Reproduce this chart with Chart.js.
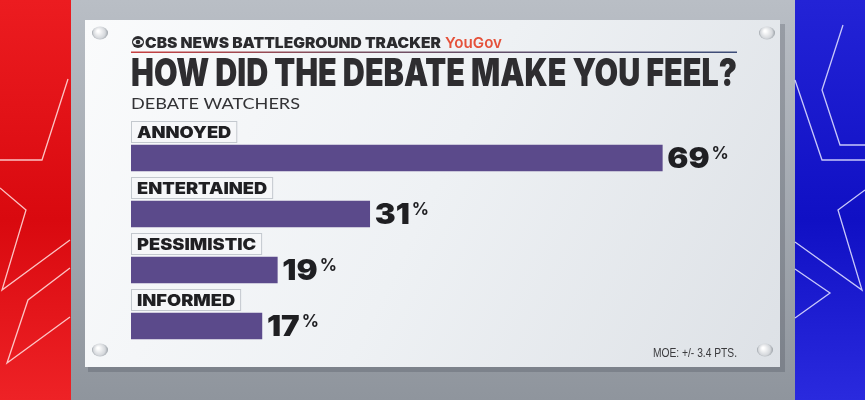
<!DOCTYPE html>
<html>
<head>
<meta charset="utf-8">
<script src="https://cdn.jsdelivr.net/npm/chart.js@4/dist/chart.umd.min.js"></script>
<style>
  html, body { margin: 0; padding: 0; background: #a7acb3; }
  #wrap { width: 865px; height: 400px; position: relative; }
</style>
</head>
<body>
<div id="wrap"><canvas id="c" width="865" height="400"></canvas></div>
<script>
// ---- data ----
const categories = ["ANNOYED", "ENTERTAINED", "PESSIMISTIC", "INFORMED"];
const values = [69, 31, 19, 17];
const headerText = "CBS NEWS BATTLEGROUND TRACKER";
const brandText = "YouGov";
const titleText = "HOW DID THE DEBATE MAKE YOU FEEL?";
const subtitleText = "DEBATE WATCHERS";
const noteText = "MOE: +/- 3.4 PTS.";

const HEAVY = "'Inter', 'Open Sans', 'DejaVu Sans', sans-serif";

function fitText(ctx, text, x, y, font, width, align) {
  ctx.save();
  ctx.font = font;
  const w = ctx.measureText(text).width;
  const s = width / w;
  ctx.translate(x, y);
  ctx.scale(s, 1);
  ctx.textAlign = align || 'left';
  ctx.fillText(text, 0, 0);
  ctx.restore();
}
function wideText(ctx, text, x, y, font, sx) {
  ctx.save();
  ctx.font = font;
  ctx.translate(x, y);
  ctx.scale(sx, 1);
  ctx.fillText(text, 0, 0);
  const w = ctx.measureText(text).width * sx;
  ctx.restore();
  return w;
}

const backdrop = {
  id: 'backdrop',
  beforeDraw(chart) {
    const ctx = chart.ctx;
    const W = chart.width, H = chart.height;
    ctx.save();
    let g = ctx.createLinearGradient(0, 0, 0, H);
    g.addColorStop(0, '#b9bec5'); g.addColorStop(1, '#8f959d');
    ctx.fillStyle = g; ctx.fillRect(0, 0, W, H);
    g = ctx.createLinearGradient(0, 0, 0, H);
    g.addColorStop(0, '#ec1c20'); g.addColorStop(0.55, '#d9090f'); g.addColorStop(1, '#ee2226');
    ctx.fillStyle = g; ctx.fillRect(0, 0, 71, H);
    g = ctx.createLinearGradient(0, 0, 0, H);
    g.addColorStop(0, '#2323d6'); g.addColorStop(0.55, '#1010c4'); g.addColorStop(1, '#2a2ade');
    ctx.fillStyle = g; ctx.fillRect(795, 0, W - 795, H);
    ctx.lineWidth = 1.3;
    const lines = [
      [[68,79],[42,160],[0,160]],
      [[0,188],[26,210],[2,290],[70,240]],
      [[70,268],[28,300],[7,363],[70,317]],
      [[843,25],[822,90],[840,145],[865,145]],
      [[795,80],[822,160],[865,160]],
      [[865,190],[838,210],[862,290],[795,242]],
      [[795,269],[830,293],[795,318]]
    ];
    lines.forEach((pts, i) => {
      ctx.strokeStyle = i < 3 ? 'rgba(255,215,215,0.9)' : 'rgba(220,220,255,0.9)';
      ctx.beginPath();
      pts.forEach((p, j) => j ? ctx.lineTo(p[0], p[1]) : ctx.moveTo(p[0], p[1]));
      ctx.stroke();
    });
    ctx.fillStyle = 'rgba(60,65,75,0.25)';
    ctx.fillRect(88, 24, 697, 348);
    g = ctx.createLinearGradient(85, 20, 780, 367);
    g.addColorStop(0, '#fafbfc'); g.addColorStop(0.5, '#eef1f4'); g.addColorStop(1, '#dde1e6');
    ctx.fillStyle = g; ctx.fillRect(85, 20, 695, 347);
    [[100,33],[100,350],[767,33],[765,350]].forEach(p => {
      const rg = ctx.createRadialGradient(p[0]-2, p[1]-2, 1, p[0], p[1], 8);
      rg.addColorStop(0, '#ffffff'); rg.addColorStop(0.7, '#d5d8dc'); rg.addColorStop(1, '#9aa0a6');
      ctx.fillStyle = rg;
      ctx.beginPath(); ctx.ellipse(p[0], p[1], 8, 6.5, 0, 0, Math.PI * 2); ctx.fill();
    });
    ctx.fillStyle = '#2b2b2e';
    ctx.beginPath(); ctx.arc(138, 42, 6, 0, Math.PI * 2); ctx.fill();
    ctx.fillStyle = '#f4f6f8';
    ctx.beginPath(); ctx.ellipse(138, 42, 5, 3, 0, 0, Math.PI * 2); ctx.fill();
    ctx.fillStyle = '#2b2b2e';
    ctx.beginPath(); ctx.arc(138, 42, 2.3, 0, Math.PI * 2); ctx.fill();
    ctx.fillStyle = '#2b2b2e';
    ctx.textBaseline = 'alphabetic';
    fitText(ctx, headerText, 145, 47.5, "900 15px " + HEAVY, 296);
    ctx.fillStyle = '#e5513a';
    fitText(ctx, brandText, 445, 47.5, "600 15px " + HEAVY, 57);
    g = ctx.createLinearGradient(131, 0, 737, 0);
    g.addColorStop(0, '#c84040'); g.addColorStop(0.35, '#7a5060'); g.addColorStop(1, '#3c4c78');
    ctx.fillStyle = g; ctx.fillRect(131, 51.5, 606, 1.5);
    ctx.fillStyle = '#2e2d30';
    fitText(ctx, titleText, 131, 86, "900 38px " + HEAVY, 606);
    ctx.fillStyle = '#333336';
    fitText(ctx, subtitleText, 131, 108.5, "400 16px 'Lato', 'Open Sans', sans-serif", 169);
    ctx.fillStyle = '#3a3a3d';
    fitText(ctx, noteText, 737, 357, "400 12px 'Liberation Sans', Arial, sans-serif", 84, 'right');
    ctx.restore();
  }
};

const labelsPlugin = {
  id: 'barLabels',
  afterDatasetsDraw(chart) {
    const ctx = chart.ctx;
    const meta = chart.getDatasetMeta(0);
    ctx.save();
    ctx.textBaseline = 'alphabetic';
    meta.data.forEach((bar, i) => {
      const top = bar.y - bar.height / 2;
      const left = bar.base;
      const lf = "900 16px " + HEAVY;
      ctx.font = lf;
      const tw = ctx.measureText(categories[i]).width * 1.14;
      const bw = tw + 12;
      ctx.fillStyle = 'rgba(246,247,249,0.95)';
      ctx.fillRect(left, top - 24, bw, 22);
      ctx.strokeStyle = '#c3c8ce'; ctx.lineWidth = 1;
      ctx.strokeRect(left + 0.5, top - 23.5, bw - 1, 21);
      ctx.fillStyle = '#1f1f22';
      wideText(ctx, categories[i], left + 6, top - 7, lf, 1.14);
      const nw = wideText(ctx, String(values[i]), bar.x + 5, bar.y + 10, "900 28px " + HEAVY, 1.12);
      wideText(ctx, '%', bar.x + 7 + nw, bar.y + 1, "700 17px " + HEAVY, 1.0);
    });
    ctx.restore();
  }
};

new Chart(document.getElementById('c'), {
  type: 'bar',
  data: {
    labels: categories,
    datasets: [{
      data: values,
      backgroundColor: '#5b4a8b',
      borderWidth: 0,
      barThickness: 26
    }]
  },
  options: {
    indexAxis: 'y',
    responsive: false,
    animation: false,
    layout: { padding: { left: 131, right: 118, top: 130, bottom: 46 } },
    scales: {
      x: { display: false, min: 0, max: 80 },
      y: { display: false }
    },
    plugins: {
      legend: { display: false },
      tooltip: { enabled: false },
      title: { display: false }
    }
  },
  plugins: [backdrop, labelsPlugin]
});
</script>
</body>
</html>
